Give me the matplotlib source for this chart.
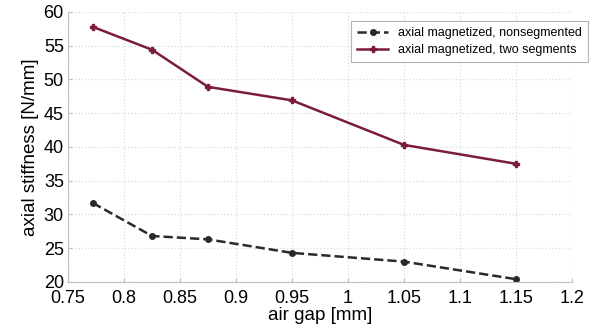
import matplotlib.pyplot as plt

plt.rcParams['font.family'] = ['Liberation Sans', 'DejaVu Sans']

air_gap = [0.772, 0.825, 0.875, 0.95, 1.05, 1.15]
nonsegmented = [31.7, 26.8, 26.3, 24.3, 23.0, 20.4]
two_segments = [57.8, 54.4, 48.9, 46.9, 40.3, 37.5]

x_ticks = [0.75, 0.8, 0.85, 0.9, 0.95, 1, 1.05, 1.1, 1.15, 1.2]
x_labels = ["0.75", "0.8", "0.85", "0.9", "0.95", "1", "1.05", "1.1", "1.15", "1.2"]
y_ticks = [20, 25, 30, 35, 40, 45, 50, 55, 60]

fig = plt.figure(figsize=(6.02, 3.32), dpi=100)
ax = fig.add_axes([0.113, 0.151, 0.837, 0.813])

ax.plot(air_gap, nonsegmented, linestyle='--', color='#2a2a2e', linewidth=1.8,
        marker='o', markersize=4, label='axial magnetized, nonsegmented')
ax.plot(air_gap, two_segments, linestyle='-', color='#7b1c3c', linewidth=1.8,
        marker='P', markersize=5, label='axial magnetized, two segments')

ax.set_xlim(0.75, 1.2)
ax.set_ylim(20, 60)
ax.set_xticks(x_ticks)
ax.set_xticklabels(x_labels)
ax.set_yticks(y_ticks)
ax.tick_params(direction='in', labelsize=13, length=3, color='#b8c0cc')
ax.tick_params(axis='x', pad=6)
ax.tick_params(axis='y', pad=3)
ax.grid(True, linestyle=':', color='#d8dce4', linewidth=0.9)

for s in ['top', 'right']:
    ax.spines[s].set_visible(False)
for s in ['left', 'bottom']:
    ax.spines[s].set_color('#b8c0cc')

ax.set_xlabel('air gap [mm]', fontsize=13.5, labelpad=0)
ax.set_ylabel('axial stiffness [N/mm]', fontsize=13.5, labelpad=3)

leg = ax.legend(loc='upper right', bbox_to_anchor=(1.045, 0.99), fontsize=9,
                fancybox=False, framealpha=1, edgecolor='#b0b4bc',
                handlelength=2.5, borderpad=0.5, labelspacing=0.4)
leg.get_frame().set_linewidth(0.8)

plt.savefig('out.png', dpi=100)
